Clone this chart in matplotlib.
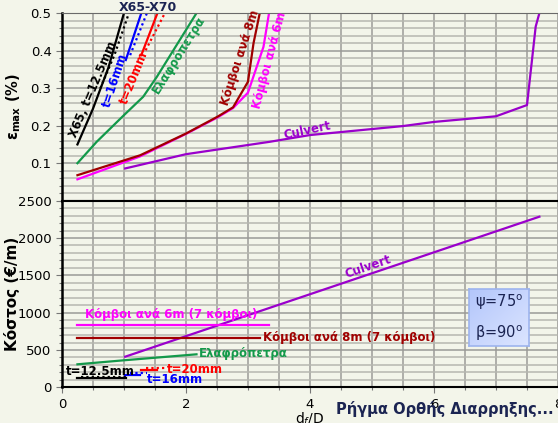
import numpy as np
import matplotlib
matplotlib.use("Agg")
from matplotlib import pyplot as plt
from matplotlib.ticker import MultipleLocator

BG = "#f3f5ea"
NAVY = "#1b2452"

# --- strain curves (top panel): d_f/D vs eps_max (%) ---
x65_x = [0.25, 0.5, 0.75, 1.0]
x65_y = [0.15, 0.245, 0.355, 0.5]
x65_dot_x = [0.62, 0.85, 1.08]
x65_dot_y = [0.30, 0.39, 0.5]
t16_x = [1.03, 1.28]
t16_y = [0.375, 0.5]
t16_dot_x = [1.10, 1.37]
t16_dot_y = [0.388, 0.5]
t20_x = [1.28, 1.54]
t20_y = [0.388, 0.5]
t20_dot_x = [1.35, 1.66]
t20_dot_y = [0.401, 0.5]
pumice_x = [0.25, 0.56, 1.0, 1.31, 1.53, 2.17]
pumice_y = [0.10, 0.157, 0.228, 0.277, 0.33, 0.5]
nodes8_x = [0.25, 1.26, 2.0, 2.51, 2.76, 3.0, 3.09, 3.19]
nodes8_y = [0.068, 0.121, 0.179, 0.224, 0.249, 0.317, 0.42, 0.5]
nodes6_x = [0.25, 1.26, 2.0, 2.51, 2.76, 3.0, 3.25, 3.34]
nodes6_y = [0.057, 0.118, 0.178, 0.222, 0.247, 0.288, 0.41, 0.5]
culvert_x = [1.02, 2.0, 3.35, 4.0, 5.5, 6.0, 7.0, 7.5, 7.64, 7.7]
culvert_y = [0.086, 0.124, 0.157, 0.175, 0.199, 0.21, 0.225, 0.255, 0.464, 0.5]

# --- cost (bottom panel): d_f/D vs EUR/m ---
cost_culvert_x = [1.02, 7.7]
cost_culvert_y = [410, 2286]
cost_nodes6_x = [0.25, 3.34]
cost_nodes6 = 835
cost_nodes8_x = [0.25, 3.19]
cost_nodes8 = 657
cost_pumice_x = [0.25, 1.0, 2.17]
cost_pumice_y = [308, 362, 442]
cost_t125_x = [0.25, 1.04]
cost_t125 = 120
cost_t125_dot_x = [0.30, 1.04]
cost_t125_dot = 135
cost_t16_x = [1.02, 1.26]
cost_t16 = 170
cost_t16_dot_x = [1.10, 1.37]
cost_t16_dot = 190
cost_t20_x = [1.27, 1.53]
cost_t20 = 232
cost_t20_dot_x = [1.35, 1.70]
cost_t20_dot = 265

C_BLACK, C_BLUE, C_RED = "#000000", "#0000ff", "#ff0000"
C_GREEN, C_MAROON, C_MAG, C_PURP = "#13994a", "#a00000", "#ff00ff", "#9a00cc"
DOT = (0, (1, 1.4))

fig = plt.figure(figsize=(5.58, 4.23), dpi=100, facecolor=BG)
ax1 = fig.add_axes([0.111, 0.5255, 0.889, 0.4435], facecolor=BG)
ax2 = fig.add_axes([0.111, 0.0844, 0.889, 0.4411], facecolor=BG)


def style_axes(ax, ymajor, yminor):
    ax.set_xlim(0, 8)
    ax.xaxis.set_major_locator(MultipleLocator(2))
    ax.xaxis.set_minor_locator(MultipleLocator(0.5))
    ax.yaxis.set_major_locator(MultipleLocator(ymajor))
    ax.yaxis.set_minor_locator(MultipleLocator(yminor))
    # vertical lines a bit darker than the horizontal ones
    ax.grid(axis="x", which="both", color="#9c9c99", lw=1.1)
    ax.grid(axis="y", which="minor", color="#b6b7b0", lw=1.1)
    ax.grid(axis="y", which="major", color="#9a9a97", lw=1.1)
    ax.set_axisbelow(True)
    for s in ["top", "right"]:
        ax.spines[s].set_color("#6a6a6a")
    ax.spines["left"].set_linewidth(1.8)
    ax.spines["bottom"].set_linewidth(1.5)
    ax.tick_params(which="both", direction="out", length=3, width=0.8,
                   colors="#777777", labelcolor="black", labelsize=9.5)
    ax.tick_params(which="minor", length=2)
    ax.tick_params(which="major", length=4)


# top panel
style_axes(ax1, 0.1, 0.02)
ax1.set_ylim(0, 0.5)
ax1.set_yticks([0.1, 0.2, 0.3, 0.4, 0.5])
ax1.set_yticklabels(["0.1", "0.2", "0.3", "0.4", "0.5"])
ax1.tick_params(axis="x", labelbottom=False)

lw = 1.6
ax1.plot(x65_x, x65_y, color=C_BLACK, lw=lw)
ax1.plot(x65_dot_x, x65_dot_y, color=C_BLACK, lw=lw, ls=DOT)
ax1.plot(t16_x, t16_y, color=C_BLUE, lw=lw)
ax1.plot(t16_dot_x, t16_dot_y, color=C_BLUE, lw=lw, ls=DOT)
ax1.plot(t20_x, t20_y, color=C_RED, lw=lw)
ax1.plot(t20_dot_x, t20_dot_y, color=C_RED, lw=lw, ls=DOT)
ax1.plot(pumice_x, pumice_y, color=C_GREEN, lw=lw)
ax1.plot(nodes6_x, nodes6_y, color=C_MAG, lw=lw)
ax1.plot(nodes8_x, nodes8_y, color=C_MAROON, lw=lw)
ax1.plot(culvert_x, culvert_y, color=C_PURP, lw=lw)

lab = dict(fontsize=8.5, fontweight="bold", ha="center", va="center",
           rotation_mode="anchor")
ax1.text(0.51, 0.297, "X65, t=12.5mm", color=C_BLACK, rotation=67, **lab)
ax1.text(0.855, 0.321, "t=16mm", color=C_BLUE, rotation=72, **lab)
ax1.text(1.16, 0.328, "t=20mm", color=C_RED, rotation=68, **lab)
ax1.text(1.89, 0.388, "Ελαφρόπετρα", color=C_GREEN, rotation=58, **lab)
ax1.text(2.88, 0.382, "Κόμβοι ανά 8m", color=C_MAROON, rotation=72, **lab)
ax1.text(3.35, 0.374, "Κόμβοι ανά 6m", color=C_MAG, rotation=75, **lab)
ax1.text(3.95, 0.186, "Culvert", color=C_PURP, rotation=12, **lab)
ax1.text(1.39, 0.516, "X65-X70", color=NAVY, fontsize=9, fontweight="bold",
         ha="center", va="center", clip_on=False)
ax1.set_ylabel(r"ε$_{\mathbf{max}}$ (%)", fontsize=10.5, fontweight="bold")
ax1.yaxis.set_label_coords(-0.078, 0.5)

# bottom panel
style_axes(ax2, 500, 100)
ax2.set_ylim(0, 2500)
ax2.set_xticks([0, 2, 4, 6, 8])
ax2.spines["top"].set_color("black")
ax2.spines["top"].set_linewidth(1.5)

ax2.plot(cost_culvert_x, cost_culvert_y, color=C_PURP, lw=lw)
ax2.plot(cost_nodes6_x, [cost_nodes6] * 2, color=C_MAG, lw=lw)
ax2.plot(cost_nodes8_x, [cost_nodes8] * 2, color=C_MAROON, lw=lw)
ax2.plot(cost_pumice_x, cost_pumice_y, color=C_GREEN, lw=lw)
ax2.plot(cost_t125_x, [cost_t125] * 2, color=C_BLACK, lw=lw)
ax2.plot(cost_t125_dot_x, [cost_t125_dot] * 2, color=C_BLACK, lw=lw, ls=DOT)
ax2.plot(cost_t16_x, [cost_t16] * 2, color=C_BLUE, lw=lw)
ax2.plot(cost_t16_dot_x, [cost_t16_dot] * 2, color=C_BLUE, lw=lw, ls=DOT)
ax2.plot(cost_t20_x, [cost_t20] * 2, color=C_RED, lw=lw)
ax2.plot(cost_t20_dot_x, [cost_t20_dot] * 2, color=C_RED, lw=lw, ls=DOT)

blab = dict(fontsize=8.5, fontweight="bold", ha="left", va="center")
ax2.text(0.37, 969, "Κόμβοι ανά 6m (7 κόμβοι)", color=C_MAG, **blab)
ax2.text(3.24, 661, "Κόμβοι ανά 8m (7 κόμβοι)", color=C_MAROON, **blab)
ax2.text(2.21, 455, "Ελαφρόπετρα", color=C_GREEN, **blab)
ax2.text(0.07, 218, "t=12.5mm", color=C_BLACK, **blab)
ax2.text(1.70, 245, "t=20mm", color=C_RED, **blab)
ax2.text(1.37, 111, "t=16mm", color=C_BLUE, **blab)
ax2.text(4.94, 1612, "Culvert", color=C_PURP, rotation=19, fontsize=8.5,
         fontweight="bold", ha="center", va="center", rotation_mode="anchor")
ax2.set_ylabel("Κόστος (€/m)", fontsize=11, fontweight="bold")
ax2.yaxis.set_label_coords(-0.085, 0.5)
ax2.set_xlabel(r"d$_f$/D", fontsize=10, labelpad=0)

# angle box
box = fig.add_axes([469 / 558, 1 - 346 / 423, 60 / 558, 57 / 423])
grad = np.linspace(0, 1, 64)[None, :] * 0.5 + np.linspace(0, 1, 64)[:, None] * 0.5
box.imshow(grad, cmap=matplotlib.colors.LinearSegmentedColormap.from_list(
    "bx", ["#b3c6fb", "#dce5ff"]), aspect="auto", extent=(0, 1, 0, 1))
box.set_xticks([])
box.set_yticks([])
for s in box.spines.values():
    s.set_color("#9db4ee")
    s.set_linewidth(1.2)
box.text(0.5, 0.77, r"ψ=75$^{\rm o}$", color=NAVY, fontsize=10.5,
         ha="center", va="center")
box.text(0.5, 0.22, r"β=90$^{\rm o}$", color=NAVY, fontsize=10.5,
         ha="center", va="center")

fig.text(0.602, 0.034, "Ρήγμα Ορθής Διαρρηξης...", color=NAVY, fontsize=10.5,
         fontweight="bold", ha="left", va="center")

fig.savefig("out.png", dpi=100, facecolor=BG)
